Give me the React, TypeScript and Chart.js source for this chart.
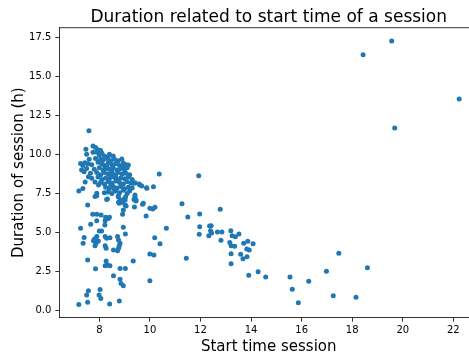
import React, { useEffect, useRef } from "react";
import { Chart, registerables } from "chart.js";

Chart.register(...registerables);

const titleText = "Duration related to start time of a session";
const xLabel = "Start time session";
const yLabel = "Duration of session (h)";
const xTicks = [8, 10, 12, 14, 16, 18, 20, 22];
const yTicks = [0, 2.5, 5, 7.5, 10, 12.5, 15, 17.5];

// late / afternoon sessions
const lateStart = [19.56, 18.43, 22.23, 19.68, 17.47, 18.6, 16.98, 15.54, 16.28, 15.63, 17.25, 18.15, 15.87];
const lateDur = [17.28, 16.41, 13.56, 11.7, 3.66, 2.73, 2.5, 2.14, 1.86, 1.35, 0.94, 0.83, 0.49];

// midday sessions
const midStart = [11.93, 11.27, 12.78, 11.5, 11.97, 10.65, 11.97, 12.36, 12.42, 12.4, 12.44, 12.33, 11.95, 12.67, 12.85, 13.2, 13.52, 13.25, 13.38, 12.81, 13.16, 13.21, 13.35, 13.71, 13.87, 14.08, 13.83, 13.93, 13.21, 13.59, 13.84, 13.68, 11.44, 13.21, 13.91, 14.28, 14.58];
const midDur = [8.64, 6.84, 6.48, 5.99, 6.18, 5.26, 5.37, 5.41, 5.43, 5.11, 4.96, 4.79, 4.88, 5.03, 5.03, 5.11, 4.9, 4.79, 4.72, 4.49, 4.36, 4.15, 4.11, 4.3, 4.43, 4.27, 3.93, 3.87, 3.63, 3.59, 3.44, 3.31, 3.34, 2.99, 2.25, 2.48, 2.14];

// around ten o'clock
const tenStart = [10.37, 10.4, 10.19, 10.0, 10.16, 10.0, 10.0, 10.11, 10.2, 9.85, 9.37, 9.61, 9.87, 10.14, 9.74, 9.41, 9.45];
const tenDur = [8.75, 4.27, 4.66, 3.61, 3.55, 1.89, 6.55, 6.5, 6.61, 6.05, 8.15, 8.04, 7.87, 7.93, 6.87, 7.4, 7.08];

// morning, shorter sessions
const lowStart = [7.9, 8.32, 8.75, 8.82, 8.98, 9.04, 8.92, 8.76, 9.41, 9.45, 9.71, 9.39, 9.06, 7.54, 8.95, 8.92, 7.74, 7.9, 8.07, 8.25, 8.4, 8.36, 7.9, 8.23, 7.66, 7.26, 8.22, 8.95, 9.03, 8.0, 8.09, 7.9, 7.81, 7.77, 7.87, 7.83, 7.4, 7.36, 7.96, 8.23, 8.29, 8.42, 8.23, 8.27, 8.72, 8.82, 8.76, 8.79, 8.72, 8.56, 8.76, 7.54, 8.27, 8.23, 8.32, 8.42, 9.34, 7.85, 8.82, 9.03, 8.56, 8.82, 8.86, 8.95, 7.57, 7.5, 8.03, 7.99, 8.06, 7.19, 7.54, 8.41, 8.79];
const lowDur = [7.36, 7.15, 7.29, 7.08, 7.14, 7.29, 6.93, 6.93, 7.29, 7.02, 6.8, 6.63, 6.69, 6.76, 6.44, 6.16, 6.16, 6.16, 6.12, 5.97, 5.97, 5.9, 5.75, 5.75, 5.52, 5.26, 5.47, 5.33, 4.9, 5.09, 5.09, 4.73, 4.58, 4.47, 4.3, 4.15, 4.68, 4.3, 4.45, 4.73, 4.62, 4.66, 4.15, 3.98, 4.73, 4.3, 4.51, 4.15, 3.83, 3.87, 3.98, 3.23, 3.16, 2.86, 2.9, 2.86, 3.16, 2.67, 2.69, 2.69, 2.22, 2.0, 1.72, 1.57, 1.26, 0.98, 1.34, 0.98, 0.75, 0.38, 0.51, 0.4, 0.59];

// morning, long sessions (edges of the dense cluster)
const edgeStart = [7.59, 7.47, 7.75, 7.85, 7.95, 8.05, 7.75, 7.9, 8.1, 8.4, 7.5, 8.89, 9.15, 8.93, 7.26, 7.43, 7.3, 7.4, 7.19, 7.35, 7.44, 7.7, 7.83, 7.57, 7.9, 7.83, 7.97, 8.29, 8.75, 8.79, 9.02, 9.37, 9.41, 9.57, 9.68, 9.88, 9.02];
const edgeDur = [11.53, 10.33, 10.55, 10.45, 10.3, 10.25, 10.15, 10.15, 10.1, 10.01, 10.02, 9.71, 9.33, 9.18, 9.43, 9.47, 9.0, 8.9, 7.66, 7.82, 8.24, 8.47, 8.24, 8.58, 7.51, 7.3, 8.04, 7.12, 7.34, 6.87, 7.08, 7.12, 8.19, 8.1, 7.98, 7.83, 6.76];

// morning, dense core
const coreStart = [8.0, 8.2, 8.35, 8.55, 7.6, 7.85, 8.05, 8.15, 8.3, 8.45, 8.6, 8.75, 7.35, 7.55, 7.7, 7.95, 8.1, 8.2, 8.35, 8.5, 8.65, 8.8, 8.95, 9.05, 7.5, 7.8, 8.0, 8.15, 8.3, 8.4, 8.55, 8.7, 8.85, 9.0, 9.1, 8.25, 7.65, 7.9, 8.05, 8.2, 8.35, 8.5, 8.6, 8.75, 8.9, 9.05, 9.2, 8.45, 7.95, 8.1, 8.25, 8.4, 8.55, 8.7, 8.85, 9.0, 9.15, 9.3, 8.65, 8.05, 8.2, 8.35, 8.5, 8.65, 8.8, 8.95, 9.1, 9.25, 8.45, 8.25, 8.4, 8.55, 8.7, 8.85, 9.0, 9.15, 9.3, 8.6, 8.35, 8.5, 8.65, 8.8, 8.95, 9.1, 9.2, 8.2];
const coreDur = [9.95, 9.9, 9.85, 9.9, 9.7, 9.75, 9.7, 9.65, 9.75, 9.6, 9.7, 9.6, 9.3, 9.4, 9.35, 9.5, 9.4, 9.3, 9.45, 9.35, 9.4, 9.3, 9.45, 9.35, 9.1, 9.05, 9.15, 9.0, 9.2, 9.05, 9.15, 9.0, 9.1, 9.0, 9.15, 9.1, 8.8, 8.85, 8.7, 8.85, 8.75, 8.9, 8.7, 8.85, 8.75, 8.8, 8.7, 8.65, 8.55, 8.4, 8.5, 8.45, 8.55, 8.4, 8.5, 8.45, 8.55, 8.4, 8.6, 8.2, 8.1, 8.25, 8.15, 8.3, 8.2, 8.1, 8.25, 8.15, 8.0, 7.9, 7.8, 7.95, 7.85, 7.95, 7.8, 7.9, 7.85, 7.75, 7.6, 7.5, 7.65, 7.55, 7.7, 7.5, 7.65, 7.55];

const starts = [...lateStart, ...midStart, ...tenStart, ...lowStart, ...edgeStart, ...coreStart];
const durations = [...lateDur, ...midDur, ...tenDur, ...lowDur, ...edgeDur, ...coreDur];

const FONT = '"DejaVu Sans", sans-serif';

const decorPlugin = {
  id: "decor",
  afterDraw(chart: any) {
    const { ctx, chartArea } = chart;
    ctx.save();
    ctx.strokeStyle = "#000";
    ctx.lineWidth = 0.8;
    ctx.beginPath();
    ctx.moveTo(chartArea.left, chartArea.top);
    ctx.lineTo(chartArea.right, chartArea.top);
    ctx.stroke();
    ctx.fillStyle = "#000";
    ctx.textAlign = "center";
    ctx.textBaseline = "alphabetic";
    ctx.font = `17px ${FONT}`;
    ctx.fillText(titleText, 268.7, 21.5);
    ctx.font = `15px ${FONT}`;
    ctx.fillText(xLabel, 268.7, 350.5);
    ctx.translate(22.5, 172.7);
    ctx.rotate(-Math.PI / 2);
    ctx.fillText(yLabel, 0, 0);
    ctx.restore();
  },
};

export default function App() {
  const ref = useRef<HTMLCanvasElement>(null);
  useEffect(() => {
    if (!ref.current) return;
    const data = starts.map((x, i) => ({ x, y: durations[i] }));
    const chart = new Chart(ref.current, {
      type: "scatter",
      data: {
        datasets: [
          {
            data,
            backgroundColor: "#1f77b4",
            borderWidth: 0,
            pointRadius: 2.5,
            pointHoverRadius: 2.5,
          },
        ],
      },
      options: {
        animation: false,
        responsive: false,
        devicePixelRatio: 1,
        layout: { autoPadding: false, padding: { top: 27.7, left: 0, right: 0, bottom: 0 } },
        plugins: { legend: { display: false }, tooltip: { enabled: false }, title: { display: false } },
        scales: {
          x: {
            type: "linear",
            min: 6.418,
            max: 22.618,
            afterFit: (s: any) => {
              s.height = 37.3;
              s.paddingLeft = 0;
              s.paddingRight = 0;
            },
            afterBuildTicks: (s: any) => {
              s.ticks = xTicks.map((v) => ({ value: v }));
            },
            grid: { drawOnChartArea: false, drawTicks: true, tickLength: 4, color: "#000", lineWidth: 0.8 },
            border: { display: true, color: "#000", width: 0.8 },
            ticks: { color: "#000", font: { family: FONT, size: 10 }, padding: 3, maxRotation: 0, autoSkip: false, callback: (v: any) => String(v) },
          },
          y: {
            type: "linear",
            min: -0.475,
            max: 18.14,
            afterFit: (s: any) => {
              s.width = 59.3;
              s.paddingTop = 0;
              s.paddingBottom = 0;
            },
            afterBuildTicks: (s: any) => {
              s.ticks = yTicks.map((v) => ({ value: v }));
            },
            grid: { drawOnChartArea: false, drawTicks: true, tickLength: 4, color: "#000", lineWidth: 0.8 },
            border: { display: true, color: "#000", width: 0.8 },
            ticks: { color: "#000", font: { family: FONT, size: 10 }, padding: 4, autoSkip: false, callback: (v: any) => Number(v).toFixed(1) },
          },
        },
      },
      plugins: [decorPlugin],
    });
    return () => chart.destroy();
  }, []);
  return (
    <div style={{ position: "absolute", left: 0, top: 0, width: 469, height: 355, overflow: "hidden" }}>
      <canvas ref={ref} width={469} height={355} style={{ display: "block" }} />
    </div>
  );
}
